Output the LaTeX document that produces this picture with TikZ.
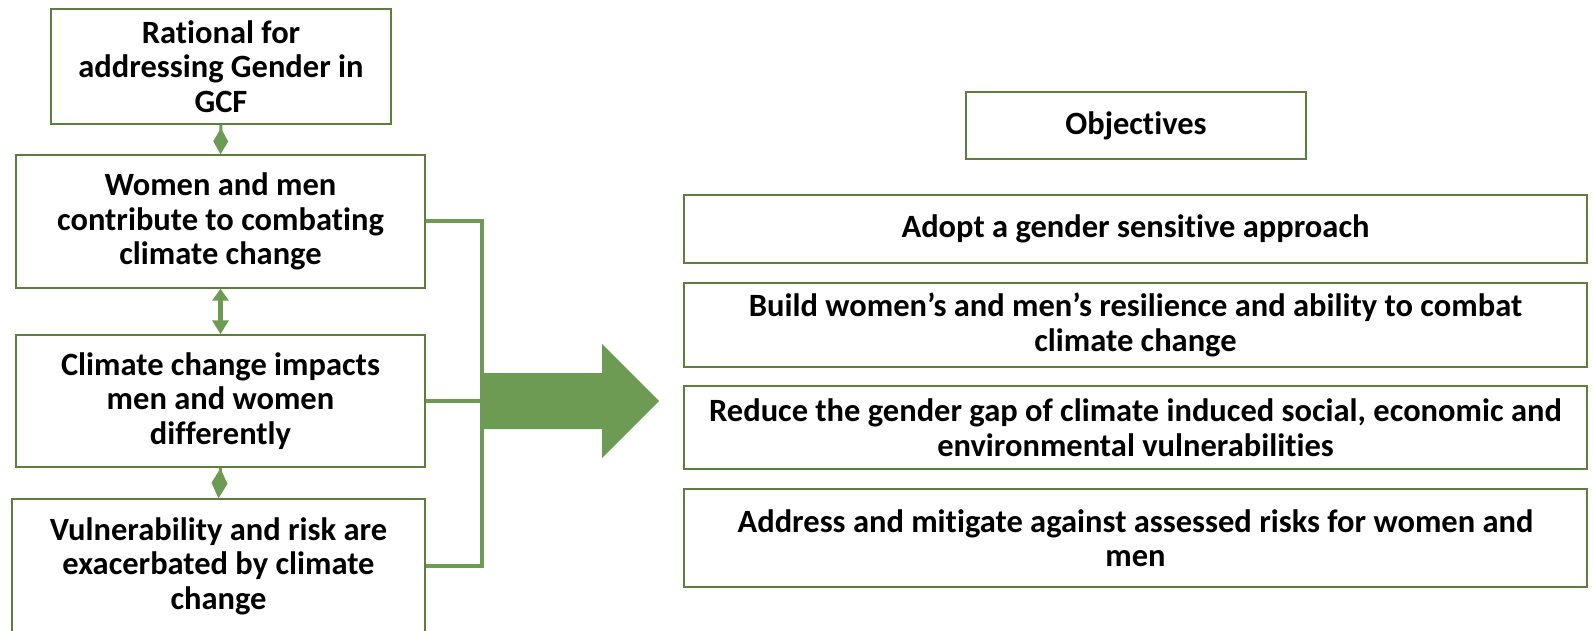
\documentclass[tikz,border=0pt]{standalone}
\usepackage{fontspec}
\setmainfont{Carlito}[Ligatures=NoCommon]
\usetikzlibrary{arrows.meta}
\definecolor{Frame}{HTML}{5E7E3E}
\definecolor{Leaf}{HTML}{6E9B53}
\tikzset{box/.style={draw=Frame,line width=1.4pt,align=center,inner sep=0pt,font=\fontsize{32.5}{34.5}\selectfont\bfseries},bracket/.style={draw=Leaf,line width=4pt},link/.style={draw=Leaf,line width=3pt}}
\begin{document}
\begin{tikzpicture}[x=1pt,y=-1pt]
\useasboundingbox (0,0) rectangle (1593,631);
% rationale column
\node[box,minimum width=340pt,minimum height=115pt] (rational) at (221,66.5) {Rational for\\addressing Gender in\\GCF};
\node[box,minimum width=409pt,minimum height=133pt] (contrib) at (220.5,221.5) {Women and men\\contribute to combating\\climate change};
\node[box,minimum width=409pt,minimum height=132pt] (impacts) at (220.5,401) {Climate change impacts\\men and women\\differently};
\node[box,minimum width=413pt,minimum height=134pt] (vulnerab) at (218.5,566) {Vulnerability and risk are\\exacerbated by climate\\change};
\draw[link,-{Diamond[width=15pt,length=26pt]}] (rational.south) -- (contrib.north);
\draw[link,line width=5pt,{Triangle[width=16pt,length=12pt]}-{Triangle[width=16pt,length=14pt]}] (contrib.south) -- (impacts.north);
\draw[link,-{Diamond[width=16pt,length=30pt]}] (impacts.south) -- (vulnerab.north);
\draw[bracket] (contrib.east) -- ++(56,0) coordinate (spine) |- (vulnerab.east);
\draw[bracket] (impacts.east) -- (impacts.east -| spine);
\fill[Leaf] (483,373) -- (602,373) -- (602,344) -- (659,401) -- (602,458) -- (602,429) -- (483,429) -- cycle;
% objectives column
\node[box,minimum width=340pt,minimum height=67pt] (objectives) at (1136,125.5) {Objectives};
\node[box,minimum width=903pt,minimum height=68pt] (adopt) at (1135.5,229) {Adopt a gender sensitive approach};
\node[box,minimum width=903pt,minimum height=84pt] (resilience) at (1135.5,325) {Build women’s and men’s resilience and ability to combat\\climate change};
\node[box,minimum width=903pt,minimum height=83pt] (gap) at (1135.5,427.5) {Reduce the gender gap of climate induced social, economic and\\environmental vulnerabilities};
\node[box,minimum width=903pt,minimum height=98pt] (mitigate) at (1135.5,538) {Address and mitigate against assessed risks for women and\\men};
\end{tikzpicture}
\end{document}
